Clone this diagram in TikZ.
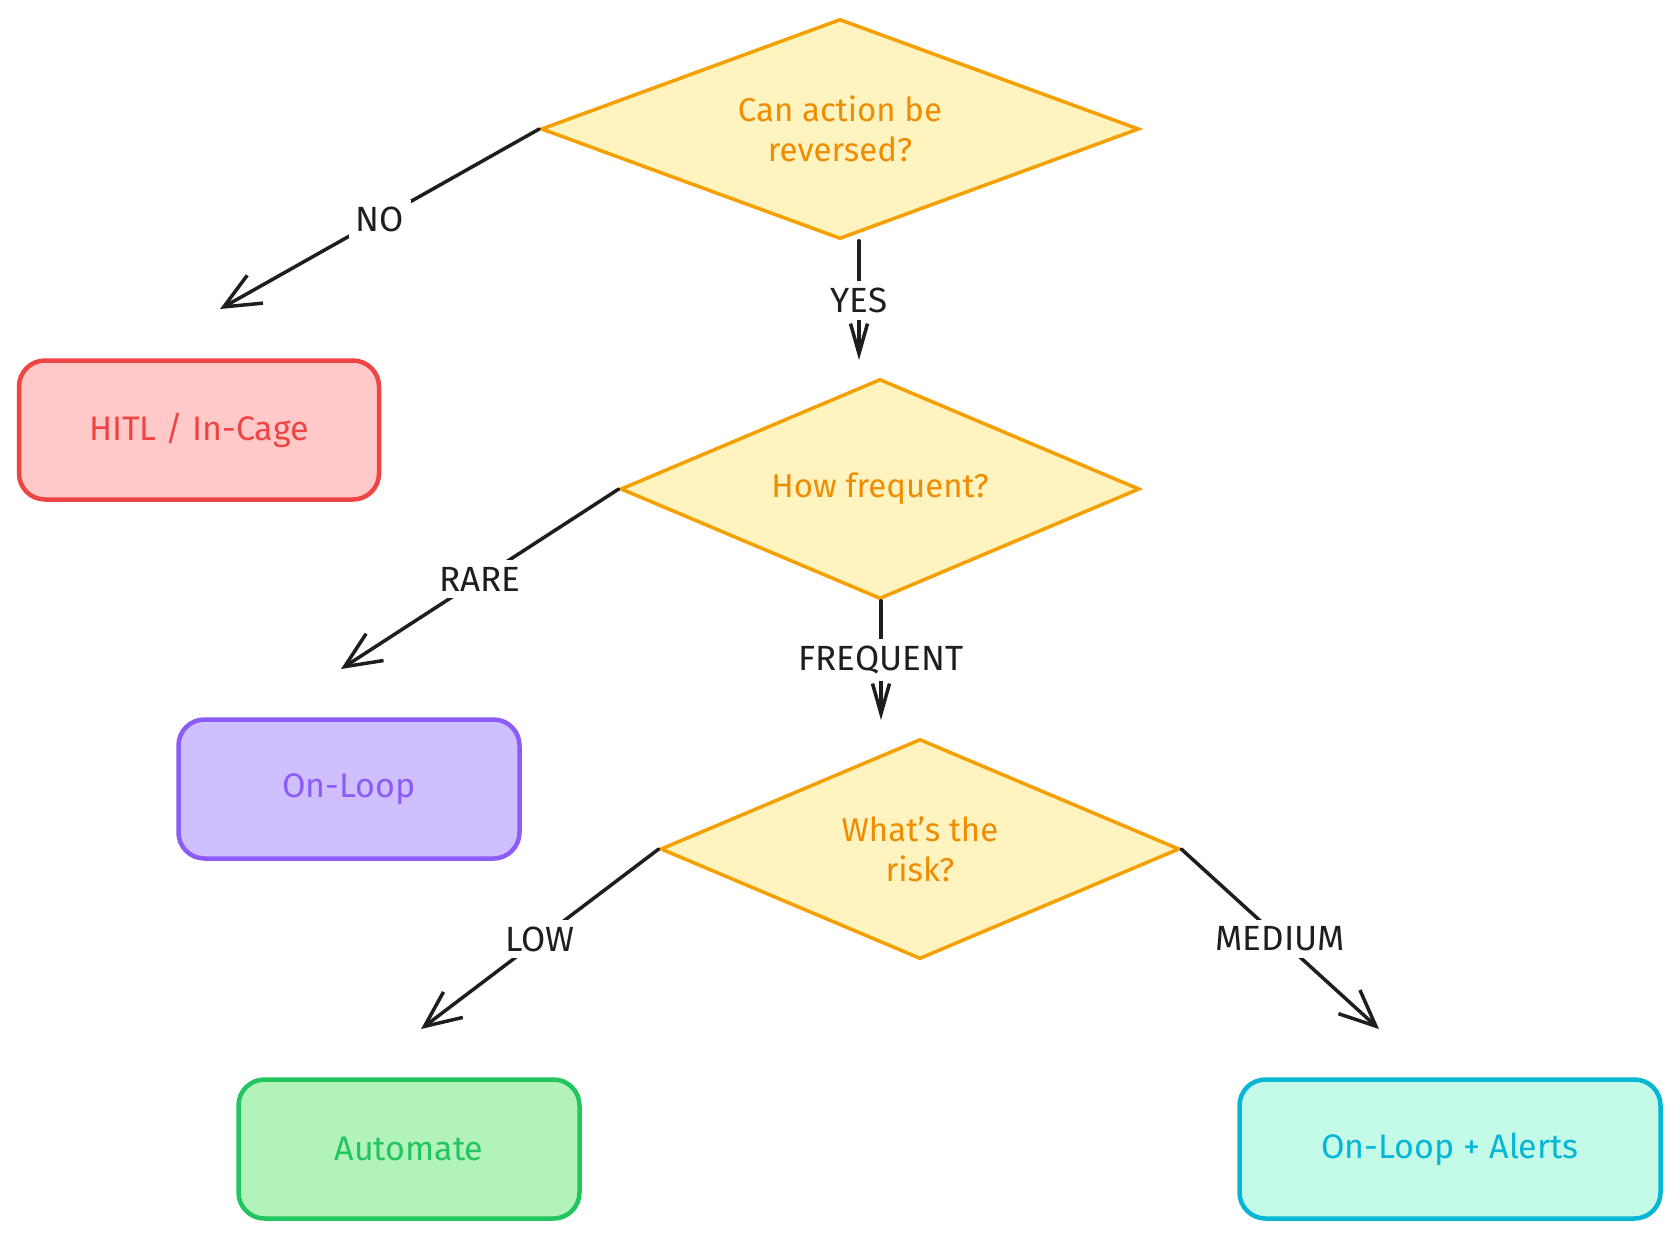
\documentclass[tikz,border=0pt]{standalone}
\usepackage{fontspec}
\setmainfont{Fira Sans}
\usetikzlibrary{shapes.geometric,arrows.meta,positioning}

\definecolor{ink}{HTML}{1E1E1E}
\definecolor{qfill}{HTML}{FFF3BF}
\definecolor{qline}{HTML}{F59F00}
\definecolor{qtext}{HTML}{F08C00}
\definecolor{hitlfill}{HTML}{FFC9C9}
\definecolor{hitlline}{HTML}{EF4444}
\definecolor{loopfill}{HTML}{D0BFFF}
\definecolor{loopline}{HTML}{8B5CF6}
\definecolor{autofill}{HTML}{B2F2BB}
\definecolor{autoline}{HTML}{22C55E}
\definecolor{alertfill}{HTML}{C3FAE8}
\definecolor{alertline}{HTML}{06B6D4}

\begin{document}
\begin{tikzpicture}[x=1pt, y=-1pt,
    question/.style={diamond, aspect=2.5, draw=qline, fill=qfill, line width=3.5pt, text=qtext, align=center, inner sep=0pt, font=\fontsize{33}{40}\selectfont},
    outcome/.style={rectangle, rounded corners=26pt, line width=4.5pt, minimum height=139pt, align=center, font=\fontsize{34}{40}\selectfont},
    choice/.style={fill=white, text=ink, inner sep=7pt, font=\fontsize{35}{40}\selectfont},
    flow/.style={draw=ink, line width=3.5pt, line cap=round, -{Straight Barb[length=36pt, width=32pt]}},
    flowdown/.style={flow, -{Straight Barb[length=30pt, width=17pt]}}]
    \useasboundingbox (0,0) rectangle (1680,1240);

    % decisions
    \node[question, aspect=2.7, minimum width=598pt, minimum height=220pt] (reverse) at (840,129) {Can action be\\reversed?};
    \node[question, minimum width=519pt, minimum height=220pt] (freq) at (880,489) {How frequent?};
    \node[question, minimum width=519pt, minimum height=220pt] (risk) at (920,849) {What's the\\risk?};

    % outcomes
    \node[outcome, draw=hitlline, fill=hitlfill, text=hitlline, minimum width=360pt] (hitl) at (199,430) {HITL / In-Cage};
    \node[outcome, draw=loopline, fill=loopfill, text=loopline, minimum width=341pt] (onloop) at (349,789) {On-Loop};
    \node[outcome, draw=autoline, fill=autofill, text=autoline, minimum width=341pt] (auto) at (409,1149) {Automate};
    \node[outcome, draw=alertline, fill=alertfill, text=alertline, minimum width=421pt] (alerts) at (1450,1149) {On-Loop + Alerts};

    % free arrow ends
    \coordinate (noend) at (220,309);
    \coordinate (yesend) at (859,360);
    \coordinate (rareend) at (341,669);
    \coordinate (freqend) at (881,720);
    \coordinate (lowend) at (421,1029);
    \coordinate (medend) at (1379,1029);

    \draw[flow] (reverse.west) -- node[choice] {NO} (noend);
    \draw[flowdown] (reverse.south -| yesend) -- node[choice] {YES} (yesend);
    \draw[flow] (freq.west) -- node[choice] {RARE} (rareend);
    \draw[flowdown] (freq.south -| freqend) -- node[choice] {FREQUENT} (freqend);
    \draw[flow] (risk.west) -- node[choice] {LOW} (lowend);
    \draw[flow] (risk.east) -- node[choice] {MEDIUM} (medend);
\end{tikzpicture}
\end{document}
